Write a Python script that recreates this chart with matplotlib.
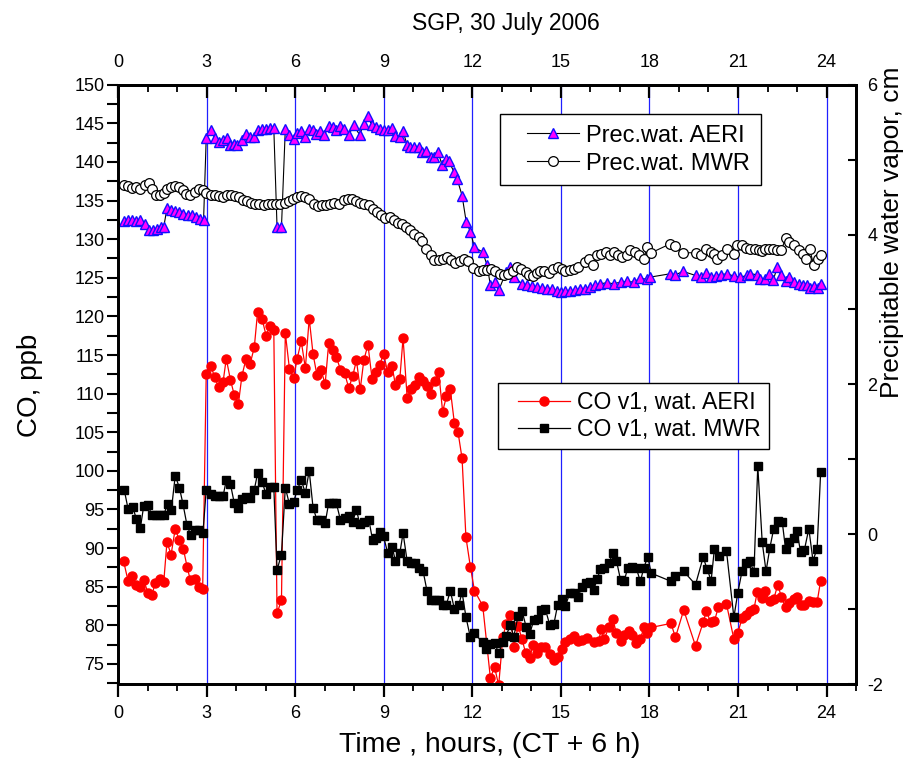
import numpy as np
import matplotlib
matplotlib.use("Agg")
import matplotlib.pyplot as plt
from matplotlib.lines import Line2D
from matplotlib.legend_handler import HandlerLine2D
from matplotlib.ticker import MultipleLocator

plt.rcParams["font.family"] = ["Liberation Sans", "DejaVu Sans"]
plt.rcParams["axes.unicode_minus"] = False

# Precipitable water, AERI (cm, right axis)
t_pw_aeri = [0.18, 0.33, 0.47, 0.61, 0.75, 0.89, 1.03, 1.18, 1.31, 1.46, 1.54, 1.65, 1.79, 1.93, 2.07,
             2.21, 2.35, 2.50, 2.64, 2.78, 2.89, 2.98, 3.13, 3.27, 3.40, 3.55, 3.68, 3.80, 3.91, 4.04,
             4.19, 4.33, 4.47, 4.61, 4.72, 4.87, 5.00, 5.13, 5.27, 5.38, 5.53, 5.66, 5.78, 5.94, 6.06,
             6.20, 6.32, 6.45, 6.59, 6.71, 6.85, 6.98, 7.13, 7.27, 7.39, 7.53, 7.66, 7.81, 7.98, 8.18,
             8.32, 8.45, 8.60, 8.75, 8.86, 8.99, 9.14, 9.27, 9.39, 9.54, 9.65, 9.79, 9.90, 10.03, 10.18,
             10.29, 10.44, 10.58, 10.71, 10.84, 10.97, 11.10, 11.20, 11.37, 11.48, 11.65, 11.79, 11.93,
             12.07, 12.35, 12.50, 12.61, 12.75, 12.89, 13.14, 13.26, 13.42, 13.68, 13.85, 14.02, 14.19,
             14.36, 14.53, 14.70, 14.87, 15.01, 15.15, 15.32, 15.49, 15.66, 15.83, 16.00, 16.17, 16.34,
             16.56, 16.79, 17.02, 17.24, 17.47, 17.69, 17.92, 18.03, 18.71, 18.88, 19.14, 19.56, 19.73,
             19.93, 20.07, 20.24, 20.41, 20.63, 20.86, 21.08, 21.31, 21.42, 21.65, 21.76, 21.93, 22.04,
             22.19, 22.33, 22.44, 22.61, 22.74, 22.89, 23.06, 23.20, 23.34, 23.43, 23.57, 23.70, 23.82]
pw_aeri = [4.175, 4.19, 4.19, 4.175, 4.19, 4.135, 4.055, 4.055, 4.07, 4.10, 4.10, 4.35, 4.33, 4.31, 4.295,
           4.28, 4.265, 4.255, 4.24, 4.21, 4.19, 5.29, 5.39, 5.29, 5.235, 5.26, 5.29, 5.19, 5.21, 5.20,
           5.265, 5.345, 5.30, 5.30, 5.39, 5.41, 5.41, 5.42, 5.42, 4.10, 4.10, 5.41, 5.33, 5.28, 5.36,
           5.38, 5.30, 5.41, 5.39, 5.345, 5.38, 5.325, 5.445, 5.435, 5.39, 5.445, 5.41, 5.33, 5.457, 5.33,
           5.48, 5.58, 5.457, 5.435, 5.41, 5.40, 5.40, 5.42, 5.315, 5.30, 5.38, 5.19, 5.17, 5.17, 5.17,
           5.10, 5.11, 5.035, 5.035, 5.10, 4.93, 5.01, 4.98, 4.84, 4.745, 4.52, 4.17, 4.04,
           3.83, 3.765, 3.587, 3.32, 3.365, 3.254, 3.50, 3.566, 3.43, 3.343, 3.321, 3.308, 3.299,
           3.285, 3.276, 3.268, 3.245, 3.232, 3.241, 3.25, 3.254, 3.268, 3.276, 3.299, 3.321, 3.343,
           3.357, 3.343, 3.365, 3.374, 3.365, 3.42, 3.40, 3.432, 3.477, 3.463, 3.508, 3.454, 3.432,
           3.49, 3.432, 3.445, 3.463, 3.477, 3.445, 3.432, 3.454, 3.477, 3.463, 3.41, 3.40, 3.477,
           3.387, 3.565, 3.463, 3.374, 3.432, 3.365, 3.343, 3.32, 3.33, 3.285, 3.312, 3.285, 3.343]

# Precipitable water, MWR (cm, right axis)
t_pw_mwr = [0.18, 0.33, 0.46, 0.61, 0.75, 0.89, 1.03, 1.14, 1.29, 1.42, 1.54, 1.65, 1.79, 1.93, 2.07,
            2.19, 2.31, 2.44, 2.59, 2.72, 2.86, 2.98, 3.13, 3.27, 3.40, 3.55, 3.68, 3.82, 3.94, 4.08,
            4.22, 4.36, 4.50, 4.64, 4.78, 4.93, 5.06, 5.21, 5.36, 5.49, 5.64, 5.77, 5.92, 6.06, 6.20,
            6.34, 6.47, 6.62, 6.76, 6.90, 7.04, 7.19, 7.32, 7.47, 7.64, 7.77, 7.92, 8.07, 8.20, 8.34,
            8.49, 8.62, 8.77, 8.90, 9.05, 9.22, 9.33, 9.47, 9.62, 9.75, 9.90, 10.03, 10.18, 10.29,
            10.44, 10.58, 10.71, 10.86, 11.00, 11.14, 11.29, 11.42, 11.57, 11.71, 11.85, 12.01, 12.21,
            12.36, 12.50, 12.63, 12.78, 12.93, 13.06, 13.21, 13.37, 13.51, 13.65, 13.80, 13.91, 14.06,
            14.19, 14.30, 14.44, 14.59, 14.72, 14.89, 15.02, 15.15, 15.30, 15.43, 15.58, 15.80, 15.94,
            16.09, 16.22, 16.36, 16.51, 16.65, 16.79, 16.93, 17.07, 17.24, 17.35, 17.50, 17.64, 17.81,
            17.92, 18.06, 18.71, 18.88, 19.14, 19.56, 19.73, 19.93, 20.07, 20.18, 20.29, 20.46, 20.63,
            20.86, 20.97, 21.14, 21.28, 21.42, 21.56, 21.71, 21.82, 21.93, 22.04, 22.19, 22.33, 22.47,
            22.61, 22.74, 22.89, 23.06, 23.20, 23.32, 23.43, 23.57, 23.70, 23.82]
pw_mwr = [4.656, 4.647, 4.62, 4.634, 4.61, 4.665, 4.691, 4.61, 4.531, 4.522, 4.558, 4.602, 4.634, 4.647, 4.634,
          4.589, 4.545, 4.531, 4.567, 4.602, 4.589, 4.558, 4.531, 4.522, 4.513, 4.50, 4.531, 4.522, 4.513, 4.50,
          4.456, 4.442, 4.424, 4.411, 4.402, 4.398, 4.411, 4.411, 4.402, 4.411, 4.424, 4.442, 4.478, 4.50, 4.513,
          4.50, 4.469, 4.411, 4.38, 4.389, 4.398, 4.411, 4.424, 4.411, 4.456, 4.478, 4.469, 4.442, 4.424, 4.411,
          4.389, 4.344, 4.30, 4.255, 4.22, 4.233, 4.189, 4.157, 4.144, 4.10, 4.055, 4.01, 3.966, 3.908,
          3.801, 3.721, 3.654, 3.654, 3.677, 3.699, 3.654, 3.623, 3.641, 3.668, 3.641, 3.552, 3.508,
          3.521, 3.521, 3.534, 3.508, 3.477, 3.454, 3.477, 3.508, 3.566, 3.534, 3.499, 3.463, 3.445,
          3.49, 3.508, 3.508, 3.49, 3.534, 3.566, 3.534, 3.508, 3.521, 3.543, 3.566, 3.632, 3.677,
          3.588, 3.721, 3.744, 3.766, 3.721, 3.766, 3.73, 3.699, 3.73, 3.788, 3.766, 3.721, 3.677,
          3.833, 3.757, 3.877, 3.846, 3.757, 3.757, 3.721, 3.801, 3.766, 3.744, 3.677, 3.721, 3.801,
          3.744, 3.855, 3.864, 3.819, 3.801, 3.81, 3.788, 3.775, 3.81, 3.801, 3.81, 3.788, 3.788,
          3.953, 3.90, 3.855, 3.788, 3.744, 3.668, 3.801, 3.588, 3.677, 3.721]

# CO v1 with AERI water (ppb, left axis)
t_co_aeri = [0.18, 0.33, 0.46, 0.61, 0.75, 0.86, 1.01, 1.14, 1.25, 1.40, 1.54, 1.65, 1.79, 1.93, 2.07,
             2.21, 2.33, 2.44, 2.59, 2.72, 2.86, 2.98, 3.13, 3.27, 3.40, 3.55, 3.66, 3.80, 3.93, 4.07,
             4.19, 4.33, 4.47, 4.61, 4.72, 4.87, 5.01, 5.13, 5.27, 5.38, 5.53, 5.66, 5.80, 5.94, 6.06,
             6.20, 6.34, 6.47, 6.60, 6.73, 6.87, 7.01, 7.13, 7.27, 7.39, 7.53, 7.67, 7.81, 7.94, 8.07,
             8.20, 8.32, 8.46, 8.60, 8.75, 8.86, 8.99, 9.13, 9.28, 9.39, 9.54, 9.65, 9.79, 9.92, 10.07,
             10.20, 10.33, 10.46, 10.58, 10.72, 10.86, 10.99, 11.12, 11.25, 11.39, 11.51, 11.65, 11.78,
             11.93, 12.07, 12.35, 12.61, 12.75, 12.89, 13.03, 13.14, 13.29, 13.40, 13.55, 13.68, 13.80,
             13.94, 14.06, 14.19, 14.34, 14.47, 14.62, 14.76, 14.89, 15.02, 15.15, 15.30, 15.44, 15.57,
             15.72, 15.89, 16.11, 16.28, 16.36, 16.47, 16.62, 16.76, 16.88, 17.02, 17.15, 17.30, 17.41,
             17.55, 17.69, 17.81, 17.92, 18.06, 18.73, 18.88, 19.16, 19.56, 19.82, 19.93, 20.07, 20.20,
             20.33, 20.61, 20.86, 20.99, 21.14, 21.28, 21.42, 21.54, 21.65, 21.80, 21.93, 22.07, 22.21,
             22.35, 22.47, 22.61, 22.74, 22.89, 23.00, 23.12, 23.25, 23.40, 23.54, 23.68, 23.80]
co_aeri = [88.30, 85.79, 86.44, 85.27, 85.01, 85.88, 84.15, 83.97, 85.45, 86.01, 85.58, 90.77, 89.17, 92.51, 90.99,
           89.82, 87.61, 85.88, 86.01, 84.93, 84.71, 112.57, 113.61, 112.14, 110.80, 111.49, 114.52, 111.79, 109.84, 108.67,
           112.31, 114.52, 113.87, 116.04, 120.54, 119.72, 117.51, 118.72, 118.29, 81.55, 83.28, 117.86, 113.22, 112.01, 114.52,
           116.77, 113.31, 119.72, 115.13, 112.44, 113.09, 111.23, 116.56, 115.60, 114.74, 113.09, 112.66, 110.71, 112.23, 114.31,
           110.58, 114.31, 116.34, 111.92, 112.75, 113.74, 115.17, 112.75, 113.52, 111.14, 111.88, 117.21, 109.41, 110.58, 111.14,
           112.14, 111.58, 111.01, 109.97, 111.58, 112.75, 107.68, 109.63, 110.58, 106.16, 105.08, 101.61, 91.42,
           87.61, 84.49, 82.54, 73.14, 74.61, 72.23, 78.43, 80.16, 81.37, 77.13, 79.94, 78.21, 76.48,
           75.83, 77.47, 76.48, 77.13, 77.13, 76.35, 75.48, 75.91, 76.91, 77.78, 78.21, 78.64, 77.99,
           78.08, 78.34, 77.78, 77.91, 79.51, 78.21, 79.73, 80.81, 78.95, 77.91, 78.77, 79.21, 78.77,
           77.65, 78.21, 79.73, 78.95, 79.73, 80.25, 78.43, 81.98, 77.34, 80.38, 81.89, 80.38, 80.51,
           82.32, 82.76, 78.21, 78.95, 80.94, 81.37, 81.80, 82.11, 84.27, 83.54, 84.40, 83.11, 83.41,
           85.27, 83.62, 82.41, 82.85, 83.41, 83.71, 82.67, 82.67, 83.19, 82.98, 82.98, 85.79]

# CO v1 with MWR water (ppb, left axis)
t_co_mwr = [0.20, 0.33, 0.49, 0.61, 0.75, 0.86, 1.01, 1.14, 1.28, 1.40, 1.54, 1.67, 1.80, 1.93, 2.07,
            2.19, 2.33, 2.46, 2.59, 2.72, 2.87, 2.98, 3.13, 3.27, 3.40, 3.55, 3.66, 3.80, 3.93, 4.07,
            4.19, 4.33, 4.47, 4.61, 4.72, 4.87, 5.01, 5.13, 5.27, 5.38, 5.53, 5.66, 5.80, 5.94, 6.06,
            6.20, 6.34, 6.47, 6.60, 6.73, 6.87, 7.01, 7.13, 7.27, 7.39, 7.53, 7.67, 7.81, 7.94, 8.07,
            8.18, 8.34, 8.49, 8.62, 8.75, 8.88, 8.99, 9.13, 9.28, 9.39, 9.54, 9.65, 9.79, 9.92, 10.07,
            10.20, 10.33, 10.46, 10.58, 10.72, 10.86, 10.99, 11.12, 11.25, 11.39, 11.54, 11.65, 11.78,
            11.93, 12.07, 12.35, 12.47, 12.61, 12.75, 12.89, 13.03, 13.14, 13.29, 13.40, 13.55, 13.68,
            13.82, 13.94, 14.08, 14.21, 14.34, 14.47, 14.62, 14.76, 14.89, 15.02, 15.15, 15.30, 15.44,
            15.57, 15.72, 15.86, 16.00, 16.11, 16.23, 16.34, 16.47, 16.62, 16.76, 16.88, 17.02, 17.15,
            17.26, 17.41, 17.55, 17.69, 17.81, 17.94, 18.06, 18.73, 18.88, 19.16, 19.56, 19.82, 19.95,
            20.09, 20.20, 20.35, 20.61, 20.86, 20.99, 21.14, 21.28, 21.40, 21.54, 21.67, 21.82, 21.95,
            22.08, 22.21, 22.35, 22.50, 22.61, 22.74, 22.89, 23.00, 23.12, 23.25, 23.40, 23.54, 23.68, 23.80]
co_mwr = [97.58, 95.11, 95.32, 93.81, 92.64, 95.41, 95.54, 94.24, 94.33, 94.33, 94.33, 95.67, 94.98, 99.36, 97.84,
          95.76, 92.94, 91.64, 92.29, 92.29, 91.99, 97.58, 96.97, 96.71, 96.71, 96.71, 98.8, 98.3, 95.84, 95.24,
          96.41, 96.62, 96.54, 97.58, 99.66, 98.58, 96.97, 97.93, 97.92, 87.18, 89.17, 97.84, 95.67, 95.97, 97.49,
          98.79, 97.14, 100.01, 95.24, 93.68, 93.68, 93.24, 95.84, 95.84, 95.84, 93.59, 93.94, 94.11, 93.37, 94.98,
          93.16, 93.37, 93.68, 90.99, 91.34, 92.07, 91.51, 89.34, 90.12, 88.39, 89.34, 91.94, 88.30, 88.04, 88.04,
          87.44, 87.00, 84.49, 83.28, 83.28, 83.28, 82.67, 82.67, 84.49, 82.11, 82.67, 84.27, 81.11,
          78.43, 78.95, 77.78, 76.91, 77.56, 77.65, 76.48, 77.78, 78.64, 80.07, 78.51, 81.24, 81.89,
          79.81, 78.86, 80.68, 80.81, 81.98, 82.11, 80.07, 80.16, 82.67, 83.41, 82.54, 84.14, 84.14,
          83.62, 85.01, 85.45, 85.58, 84.58, 86.01, 87.31, 87.44, 88.04, 89.34, 88.39, 85.88, 85.79,
          87.44, 87.61, 87.44, 85.70, 87.44, 88.91, 86.75, 85.70, 86.44, 87.00, 85.27, 88.82, 87.31,
          85.79, 89.91, 89.04, 89.61, 81.03, 84.15, 87.09, 88.04, 88.39, 86.87, 100.61, 90.77, 87.00,
          90.04, 92.51, 93.50, 93.37, 89.91, 90.77, 91.34, 92.20, 89.47, 89.78, 92.51, 88.39, 89.91, 99.79]

x_ticks = [0, 3, 6, 9, 12, 15, 18, 21, 24]

fig = plt.figure(figsize=(9.19, 7.73), dpi=100)
ax = fig.add_axes([0.1287, 0.1151, 0.8028, 0.7753])
ax2 = ax.twinx()

for xv in x_ticks[1:]:
    ax.axvline(xv, color="#2020ff", lw=0.9, zorder=0)

ax.plot(t_co_aeri, co_aeri, color="red", lw=0.9, marker="o", ms=6.5, mfc="red", mec="red",
        label="CO v1, wat. AERI")
ax.plot(t_co_mwr, co_mwr, color="black", lw=0.9, marker="s", ms=5.5, mfc="black", mec="black",
        label="CO v1, wat. MWR")

ax2.plot(t_pw_aeri, pw_aeri, color="black", lw=0.8, marker="^", ms=7.5, mfc="#ff00ff", mec="#1010ff",
         mew=1.0, label="Prec.wat. AERI")
ax2.plot(t_pw_mwr, pw_mwr, color="black", lw=0.8, marker="o", ms=7, mfc="white", mec="black",
         mew=0.9, label="Prec.wat. MWR")

ax.set_xlim(0, 25)
ax.set_ylim(72.4, 150)
ax2.set_ylim(-2, 6)

ax.xaxis.set_major_locator(MultipleLocator(3))
ax.xaxis.set_minor_locator(MultipleLocator(1))
ax.yaxis.set_major_locator(MultipleLocator(5))
ax.yaxis.set_minor_locator(MultipleLocator(2.5))
ax2.yaxis.set_major_locator(MultipleLocator(2))
ax2.yaxis.set_minor_locator(MultipleLocator(1))

ax.tick_params(axis="x", which="both", bottom=True, top=False, direction="out", labelsize=13,
               width=1.6, pad=6)
ax.tick_params(axis="x", which="major", length=9)
ax.tick_params(axis="x", which="minor", length=5, width=1.3)
ax.tick_params(axis="y", which="both", left=True, right=False, direction="out", labelsize=13,
               width=1.5, length=8, pad=2)
ax2.tick_params(axis="y", which="both", direction="in", labelsize=13, width=1.5, length=6, pad=8)

# top axis: same hours, ticks pointing inward
top = ax.secondary_xaxis("top")
top.xaxis.set_major_locator(MultipleLocator(3))
top.xaxis.set_minor_locator(MultipleLocator(1))
top.tick_params(axis="x", which="both", direction="in", labelsize=13, width=1.6, pad=10)
top.tick_params(axis="x", which="major", length=9)
top.tick_params(axis="x", which="minor", length=5, width=1.3)
top.spines["top"].set_linewidth(2)

for a in (ax, ax2):
    for s in a.spines.values():
        s.set_linewidth(2)

fig.text(0.033, 0.502, "CO, ppb", rotation=90, fontsize=20, ha="center", va="center")
fig.text(0.533, 0.036, "Time , hours, (CT + 6 h)", fontsize=20.5, ha="center", va="center")
fig.text(0.971, 0.70, "Precipitable water vapor, cm", rotation=90, fontsize=19,
         ha="center", va="center")
fig.text(0.55, 0.970, "SGP, 30 July 2006", fontsize=16.5, ha="center", va="center")

leg2 = ax2.legend(loc="upper left", bbox_to_anchor=(0.5174, 0.951), fontsize=17, frameon=True,
                  fancybox=False, edgecolor="black", framealpha=1, handlelength=2.9,
                  borderpad=0.45, labelspacing=0.25, handletextpad=0.3, borderaxespad=0,
                  handler_map={Line2D: HandlerLine2D(xpad=0.7)})
leg2.get_frame().set_linewidth(1.0)
leg1 = ax.legend(loc="upper left", bbox_to_anchor=(0.5143, 0.5028), fontsize=16.6, frameon=True,
                 fancybox=False, edgecolor="black", framealpha=1, handlelength=2.8,
                 borderpad=0.35, labelspacing=0.2, handletextpad=0.3, borderaxespad=0,
                 handler_map={Line2D: HandlerLine2D(xpad=0.55)})
leg1.get_frame().set_linewidth(1.0)

fig.savefig("out.png", dpi=100)
